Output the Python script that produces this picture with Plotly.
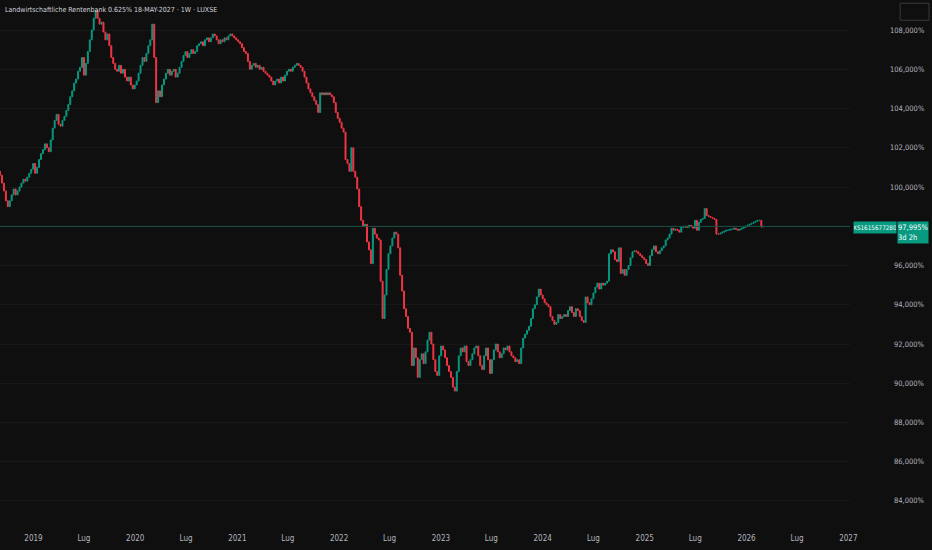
import pandas as pd
import plotly.graph_objects as go

# weekly closes, first week starting 2018-09-03
first_open = 100.8
close = [
    100.6, 100.2, 99.8, 99.3, 99.0, 99.3, 99.6, 99.9, 99.6, 99.8,
    100.0, 100.2, 100.4, 100.3, 100.5, 100.7, 100.9, 101.2, 100.7, 101.0,
    101.4, 101.7, 101.9, 102.2, 102.0, 101.8, 102.4, 103.0, 103.4, 103.7,
    103.2, 103.1, 103.4, 103.6, 103.9, 104.2, 104.6, 104.9, 105.3, 105.5,
    105.9, 106.1, 106.6, 105.7, 106.3, 106.9, 107.5, 108.0, 108.6, 109.0,
    108.6, 108.3, 108.4, 107.9, 107.5, 107.8, 107.2, 106.6, 106.3, 106.0,
    105.9, 106.2, 105.8, 106.0, 105.6, 105.4, 105.6, 105.2, 105.0, 105.2,
    105.4, 105.8, 106.2, 106.6, 106.4, 106.8, 107.2, 107.5, 108.3, 106.6,
    104.3, 104.9, 104.6, 105.2, 105.5, 105.8, 106.0, 105.7, 105.9, 106.0,
    105.6, 105.8, 106.1, 106.4, 106.7, 106.9, 106.6, 106.8, 107.0, 106.8,
    106.9, 107.2, 107.3, 107.4, 107.2, 107.5, 107.6, 107.4, 107.6, 107.8,
    107.7, 107.5, 107.3, 107.5, 107.4, 107.6, 107.5, 107.7, 107.8, 107.7,
    107.6, 107.5, 107.4, 107.3, 107.1, 106.9, 106.8, 106.4, 106.0, 106.2,
    106.3, 106.1, 106.2, 106.0, 106.1, 105.9, 105.8, 105.7, 105.6, 105.4,
    105.2, 105.4, 105.5, 105.3, 105.6, 105.4, 105.7, 105.9, 106.0, 105.9,
    106.1, 106.2, 106.3, 106.2, 106.1, 105.9, 105.6, 105.3, 105.0, 104.8,
    104.6, 104.4, 104.2, 103.8, 104.8, 104.7, 104.8, 104.7, 104.8, 104.7,
    104.6, 104.3, 103.8, 103.5, 103.3, 103.0, 102.8, 101.4, 101.2, 100.8,
    102.0, 100.8, 100.5, 99.9, 99.0, 98.3, 98.0, 98.1, 97.2, 96.8,
    96.1, 97.9, 97.6, 97.4, 97.3, 95.2, 93.3, 94.5, 95.8, 96.6,
    97.0, 97.4, 97.7, 97.6, 96.9, 95.5, 94.7, 93.8, 93.4, 92.8,
    92.6, 90.9, 91.8, 91.3, 90.3, 91.2, 91.5, 91.0, 91.6, 92.2,
    92.6, 92.0, 91.2, 90.6, 90.4, 91.4, 91.9, 91.7, 91.3, 90.9,
    90.6, 90.3, 89.8, 89.6, 90.6, 91.4, 91.8, 91.6, 91.9, 91.1,
    90.9, 91.2, 91.5, 91.8, 91.9, 91.4, 90.9, 90.7, 91.4, 91.8,
    91.2, 90.5, 91.2, 91.7, 92.0, 91.6, 91.3, 91.5, 91.8, 91.7,
    91.9, 91.6, 91.4, 91.3, 91.1, 91.2, 91.0, 91.8, 92.3, 92.5,
    92.7, 92.9, 93.3, 93.8, 94.0, 94.4, 94.8, 94.5, 94.3, 94.1,
    94.0, 93.9, 93.4, 93.2, 93.0, 93.1, 93.5, 93.3, 93.4, 93.5,
    93.4, 93.7, 93.9, 93.6, 93.4, 93.8, 93.7, 93.4, 93.2, 93.1,
    94.4, 94.1, 94.0, 94.3, 94.6, 94.9, 95.1, 94.8, 95.1, 95.0,
    95.1, 95.2, 96.6, 96.8, 96.7, 96.3, 96.2, 96.9, 95.6, 95.8,
    95.5, 95.8, 96.0, 96.4, 96.7, 96.75, 96.7, 96.6, 96.5, 96.4,
    96.3, 96.1, 96.0, 96.5, 96.8, 97.0, 96.7, 96.6, 96.75, 96.9,
    97.0, 97.3, 97.4, 97.6, 97.9, 97.8, 97.85, 97.8, 97.7, 97.95,
    97.95, 98.0, 97.95, 98.05, 98.0, 97.9, 98.3, 97.8, 98.2, 98.35,
    98.4, 98.9, 98.55, 98.5, 98.45, 98.4, 98.35, 97.6, 97.6, 97.65,
    97.7, 97.75, 97.8, 97.8, 97.85, 97.85, 97.9, 97.85, 97.8, 97.85,
    97.9, 97.95, 98.0, 98.05, 98.1, 98.15, 98.2, 98.25, 98.3, 98.3,
    97.96, 97.995,
]

price_ticks = [84, 86, 88, 90, 92, 94, 96, 98, 100, 102, 104, 106, 108]
date_ticks = ["2019-01-01", "2019-07-01", "2020-01-01", "2020-07-01",
              "2021-01-01", "2021-07-01", "2022-01-01", "2022-07-01",
              "2023-01-01", "2023-07-01", "2024-01-01", "2024-07-01",
              "2025-01-01", "2025-07-01", "2026-01-01", "2026-07-01",
              "2027-01-01"]
date_labels = ["2019", "Lug", "2020", "Lug", "2021", "Lug", "2022", "Lug",
               "2023", "Lug", "2024", "Lug", "2025", "Lug", "2026", "Lug",
               "2027"]

title = "Landwirtschaftliche Rentenbank 0.625% 18-MAY-2027 · 1W · LUXSE"
isin = "XS1615677280"
countdown = "3d 2h"
last_price = close[-1]

UP = "#089981"
DOWN = "#f23645"
BG = "#0f0f0f"
GRID = "#181818"
TEXT = "#b2b5be"
FONT = "DejaVu Sans Condensed, DejaVu Sans, sans-serif"

dates = pd.date_range("2018-09-03", periods=len(close), freq="7D")
opens = [first_open] + close[:-1]
highs = [max(o, c) for o, c in zip(opens, close)]
lows = [min(o, c) for o, c in zip(opens, close)]


def fmt_pct(v):
    return f"{v:.3f}".replace(".", ",") + "%"


fig = go.Figure(
    go.Candlestick(
        x=dates,
        open=opens,
        high=highs,
        low=lows,
        close=close,
        whiskerwidth=0,
        increasing=dict(line=dict(color=UP, width=1), fillcolor=UP),
        decreasing=dict(line=dict(color=DOWN, width=1), fillcolor=DOWN),
        hoverinfo="skip",
    )
)

fig.update_layout(
    width=932,
    height=550,
    margin=dict(l=0, r=82, t=0, b=18),
    paper_bgcolor=BG,
    plot_bgcolor=BG,
    showlegend=False,
    font=dict(family=FONT, size=9, color=TEXT),
    xaxis=dict(
        range=[pd.Timestamp("2018-09-03"), pd.Timestamp("2027-01-07")],
        rangeslider=dict(visible=False),
        tickvals=date_ticks,
        ticktext=date_labels,
        showgrid=False,
        zeroline=False,
        showline=False,
        automargin=False,
        ticks="",
        tickfont=dict(size=8, color=TEXT),
    ),
    yaxis=dict(
        side="right",
        range=[82.42, 109.53],
        tickvals=price_ticks,
        showticklabels=False,
        showgrid=True,
        gridcolor=GRID,
        zeroline=False,
        showline=False,
        automargin=False,
        ticks="",
    ),
)

# price scale labels, right-aligned in the scale strip
# (the one under the last-price tag is hidden there, as on the chart)
for v in price_ticks:
    if abs(v - last_price) < 0.5:
        continue
    fig.add_annotation(
        xref="paper", yref="y", x=1.0, y=v,
        xanchor="right", yanchor="middle", xshift=77, showarrow=False,
        text=fmt_pct(v), font=dict(size=7.5, color=TEXT, family=FONT),
    )

# last price line
fig.add_shape(
    type="line", xref="paper", yref="y",
    x0=0, x1=1, y0=last_price, y1=last_price,
    line=dict(color="#1a5248", width=1),
)
# small box top right
fig.add_shape(
    type="rect", xref="paper", yref="paper",
    x0=1.059, x1=1.093, y0=0.962, y1=0.994,
    line=dict(color="#3a3a3a", width=1), fillcolor=BG,
)

fig.add_annotation(
    xref="paper", yref="y", x=1.0, y=last_price,
    xanchor="left", yanchor="middle", xshift=3, yshift=-1, showarrow=False,
    width=42, height=11, borderpad=0,
    text=isin, bgcolor=UP, font=dict(color="#ffffff", size=6.3, family=FONT),
)
fig.add_annotation(
    xref="paper", yref="y", x=1.0, y=last_price,
    xanchor="left", yanchor="top", xshift=47, yshift=5, showarrow=False,
    width=30, height=21, borderpad=0, align="left",
    text=fmt_pct(last_price) + "<br>" + countdown, bgcolor=UP,
    font=dict(color="#ffffff", size=7.5, family=FONT),
)

fig.add_annotation(
    xref="paper", yref="paper", x=0.003, y=0.993,
    xanchor="left", yanchor="top", showarrow=False,
    text=title, font=dict(color="#d1d4dc", size=7, family=FONT),
)

fig.write_html(
    "out.html",
    config={"displayModeBar": False},
    post_script="document.body.style.margin='0';document.body.style.overflow='hidden';",
)
